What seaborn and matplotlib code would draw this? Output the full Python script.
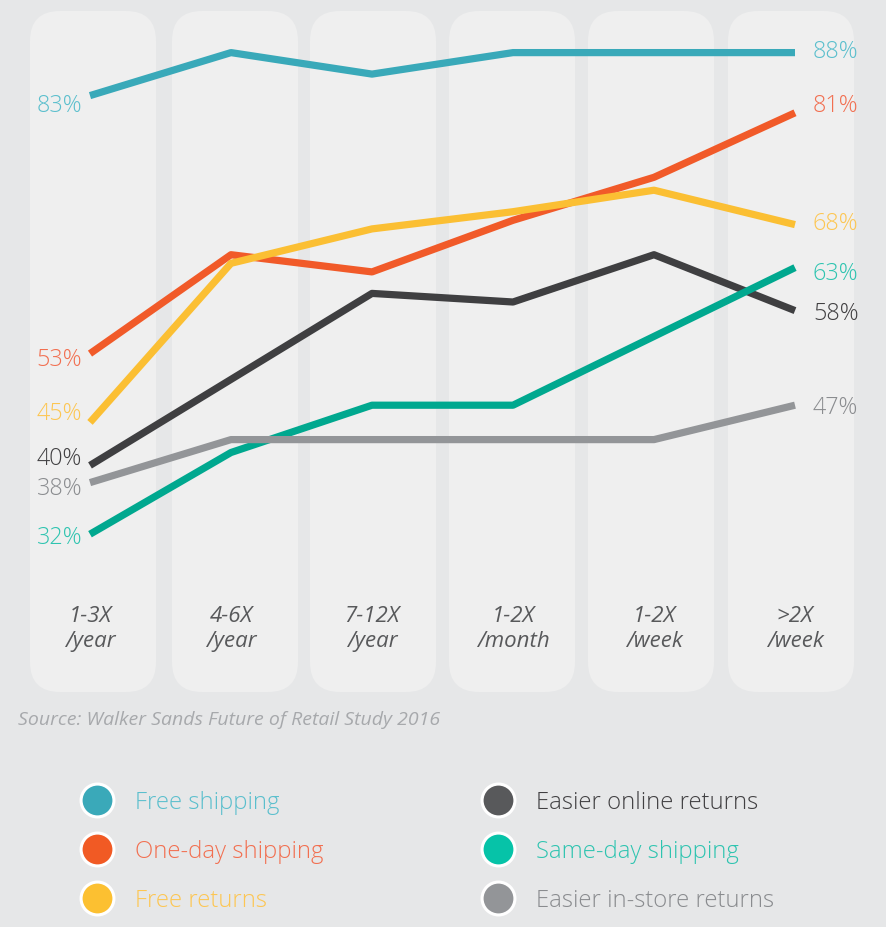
import pandas as pd
import matplotlib
matplotlib.use("Agg")
import matplotlib.pyplot as plt
from matplotlib.patches import FancyBboxPatch
import seaborn as sns

# Values (share of shoppers, %)
categories = ["1-3X\n/year", "4-6X\n/year", "7-12X\n/year",
              "1-2X\n/month", "1-2X\n/week", ">2X\n/week"]
series_names = ["Free shipping", "One-day shipping", "Free returns",
                "Easier online returns", "Same-day shipping", "Easier in-store returns"]
free_shipping = [83, 88, 85.5, 88, 88, 88]
one_day_shipping = [53, 64.5, 62.5, 68.5, 73.5, 81]
free_returns = [45, 63.5, 67.5, 69.5, 72, 68]
easier_online_returns = [40, 50, 60, 59, 64.5, 58]
same_day_shipping = [32, 41.5, 47, 47, 55, 63]
easier_instore_returns = [38, 43, 43, 43, 43, 47]
source_text = "Source: Walker Sands Future of Retail Study 2016"

series_values = [free_shipping, one_day_shipping, free_returns,
                 easier_online_returns, same_day_shipping, easier_instore_returns]

line_colors = ["#39a9b9", "#f15a29", "#fbbf33", "#3f3f41", "#00a88f", "#939598"]
label_colors = ["#5bbfcd", "#f26f50", "#fdc652", "#414042", "#2ec4b0", "#8a8c8f"]
dot_colors = ["#3aa9b9", "#f15a24", "#fcc031", "#58595b", "#06c3a8", "#939598"]

# vertical nudges (pixels, down is positive) so end labels do not collide
left_nudge = [9, 5, -9, -7, 3, 5]
right_nudge = [-2, -8, -2, 2, 5, 2]

# long format for seaborn
rows = []
for name, vals in zip(series_names, series_values):
    for cat, v in zip(categories, vals):
        rows.append({"frequency": cat, "pct": v, "series": name})
df = pd.DataFrame(rows)

sns.set_theme(style="white")
plt.rcParams["font.family"] = ["Open Sans", "DejaVu Sans"]

W, H = 886, 928
fig = plt.figure(figsize=(W / 100, H / 100), dpi=100, facecolor="#e6e7e8")

# background layer in pixel units: rounded column panels, source, legend
bg = fig.add_axes([0, 0, 1, 1])
bg.set_xlim(0, W)
bg.set_ylim(H, 0)
bg.axis("off")

panel_left = [30, 172, 310, 449, 588, 728]
for x0 in panel_left:
    bg.add_patch(FancyBboxPatch((x0, 12), 126, 681,
                                boxstyle="round,pad=0,rounding_size=30",
                                fc="#efefef", ec="none"))

bg.text(18, 720, source_text, ha="left", va="center", fontstyle="italic",
        color="#a7a9ac", fontsize=14)

legend_x = [97, 498]
legend_y = [801, 850, 899]
for k, (name, dc, tc) in enumerate(zip(series_names, dot_colors, label_colors)):
    col, row = divmod(k, 3)
    bg.scatter(legend_x[col], legend_y[row], s=560, color=dc,
               edgecolor="white", linewidth=2.2, zorder=3)
    bg.text(legend_x[col] + 38, legend_y[row] + 2, name, color=tc,
            fontsize=17.2, fontweight="light", va="center")

# data layer
ax = fig.add_axes([0, 0, 1, 1])
ax.patch.set_alpha(0)
sns.lineplot(data=df, x="frequency", y="pct", hue="series", hue_order=series_names,
             palette=dict(zip(series_names, line_colors)), linewidth=5.2,
             legend=False, sort=False, ax=ax, solid_capstyle="butt")
ax.set_xlim(-0.6383, 5.6454)
ax.set_ylim(-13.674, 94.233)
ax.axis("off")

last = len(categories) - 1
for vals, c, ln, rn in zip(series_values, label_colors, left_nudge, right_nudge):
    ax.annotate(f"{vals[0]:.0f}%", xy=(0, vals[0]), xytext=(-8, -ln),
                textcoords="offset pixels", ha="right", va="center",
                color=c, fontsize=16.8, fontweight="light")
    ax.annotate(f"{vals[-1]:.0f}%", xy=(last, vals[-1]), xytext=(18, -rn),
                textcoords="offset pixels", ha="left", va="center",
                color=c, fontsize=16.8, fontweight="light")

for i, cat in enumerate(categories):
    ax.text(i, 21.1, cat, ha="center", va="center", fontstyle="italic",
            color="#58595b", fontsize=16, linespacing=1.25)

fig.savefig("out.png", dpi=100)
